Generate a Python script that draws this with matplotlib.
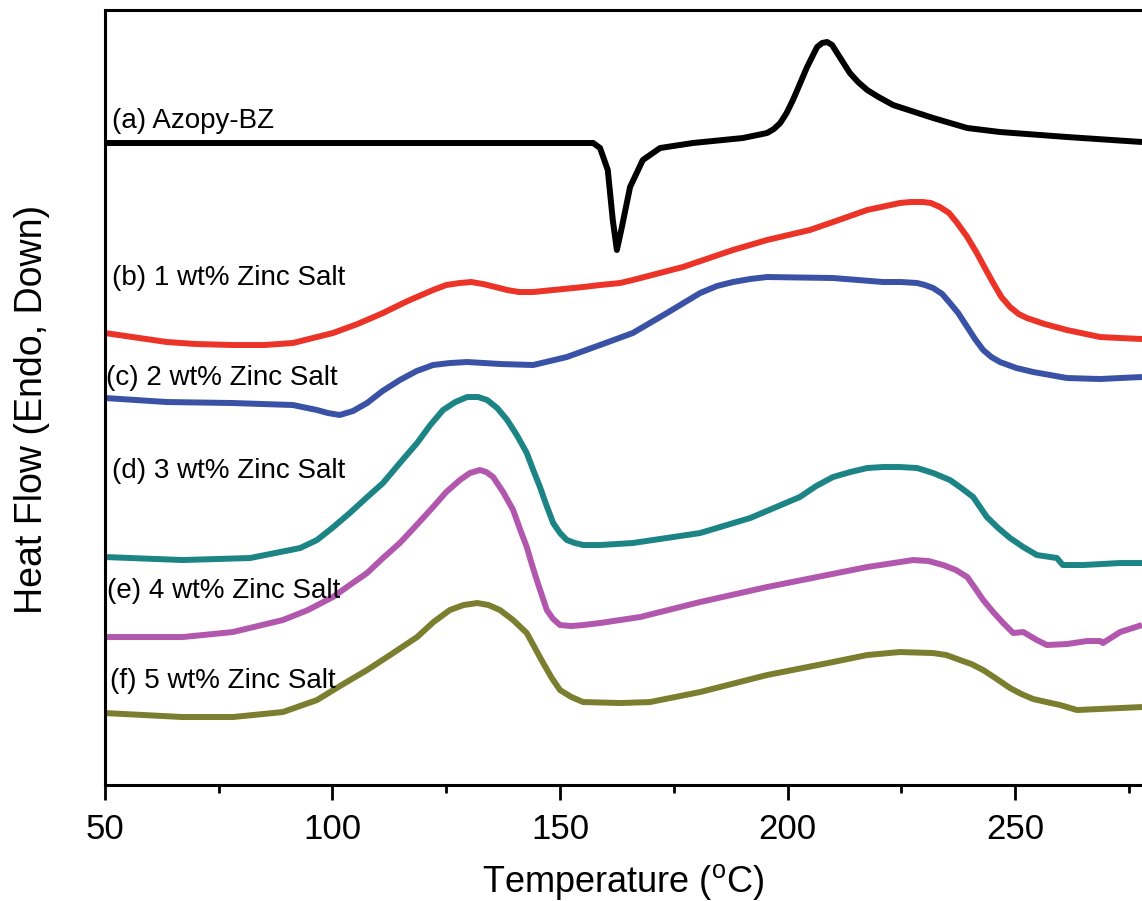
import matplotlib
matplotlib.use("Agg")
import matplotlib.pyplot as plt

plt.rcParams["font.family"] = ["Liberation Sans", "DejaVu Sans"]

# DSC traces, temperature in degC, heat flow in arbitrary (offset) units
temp_a = [50, 157.3, 158.8, 160.5, 161.6, 162.5, 163.6, 165.4, 168.2, 172.0,
          179.2, 190.2, 195.5, 197.0, 198.4, 199.8, 201.2, 202.8, 204.3, 206.5,
          207.6, 208.7, 209.8, 210.9, 213.7, 215.5, 217.5, 220.0, 223.2, 232.0,
          239.5, 246.7, 261.4, 277.9]
hf_a = [64.2, 64.2, 63.7, 61.5, 56.5, 53.5, 55.8, 59.8, 62.5, 63.7,
        64.2, 64.7, 65.2, 65.6, 66.2, 67.2, 68.5, 70.2, 71.8, 73.8,
        74.2, 74.3, 74.0, 73.2, 71.2, 70.3, 69.5, 68.8, 68.0, 66.7,
        65.7, 65.3, 64.8, 64.3]

temp_b = [50, 63.6, 70.0, 78.1, 85.0, 91.3, 100.1, 105.5, 111.1, 116.5,
          122.1, 125.0, 128.0, 130.5, 133.1, 135.8, 138.4, 141.0, 144.1, 155.1,
          158.8, 163.2, 166.0, 177.0, 188.0, 195.5, 204.9, 210.0, 217.5, 224.7,
          227.0, 229.8, 231.5, 233.5, 235.5, 237.3, 239.5, 241.6, 243.5, 245.2,
          247.0, 248.9, 250.8, 252.6, 256.5, 261.4, 268.7, 273.1, 277.9]
hf_b = [45.2, 44.3, 44.1, 44.0, 44.0, 44.2, 45.2, 46.1, 47.2, 48.4,
        49.5, 50.0, 50.2, 50.3, 50.1, 49.8, 49.5, 49.3, 49.3, 49.8,
        50.0, 50.2, 50.5, 51.8, 53.5, 54.5, 55.5, 56.3, 57.5, 58.2,
        58.3, 58.3, 58.2, 57.8, 57.2, 56.2, 54.8, 53.2, 51.6, 50.2,
        48.8, 47.8, 47.1, 46.7, 46.1, 45.5, 44.8, 44.7, 44.6]

temp_c = [50, 63.6, 78.1, 91.3, 96.6, 99.0, 101.6, 104.5, 107.6, 111.0,
          114.8, 118.5, 122.1, 125.8, 129.6, 137.0, 144.1, 151.5, 158.8, 166.0,
          173.5, 180.8, 184.5, 188.0, 191.8, 195.5, 210.0, 221.0, 225.0, 228.5,
          230.2, 232.0, 234.0, 235.7, 237.5, 239.5, 241.2, 243.0, 244.8, 246.7,
          250.3, 254.0, 257.7, 261.4, 268.7, 273.1, 277.9]
hf_c = [38.7, 38.3, 38.2, 38.0, 37.5, 37.2, 37.0, 37.4, 38.2, 39.4,
        40.5, 41.4, 42.0, 42.2, 42.3, 42.1, 42.0, 42.8, 44.0, 45.2,
        47.2, 49.2, 49.9, 50.3, 50.6, 50.8, 50.7, 50.3, 50.3, 50.2,
        50.0, 49.7, 49.1, 48.2, 47.2, 45.8, 44.6, 43.5, 42.8, 42.3,
        41.7, 41.3, 41.0, 40.7, 40.6, 40.7, 40.8]

temp_d = [50, 67.1, 81.9, 92.9, 96.6, 100.2, 103.8, 107.4, 111.1, 114.8,
          118.6, 121.5, 124.3, 127.0, 129.6, 132.0, 134.0, 136.2, 138.4, 140.5,
          142.7, 144.2, 145.6, 147.0, 148.5, 150.0, 151.5, 153.3, 155.1, 158.8,
          166.0, 180.8, 191.8, 202.7, 206.3, 210.0, 213.8, 217.5, 221.0, 224.7,
          228.5, 232.0, 235.7, 238.2, 240.8, 242.3, 243.8, 246.3, 248.9, 251.8,
          254.8, 259.2, 260.5, 264.9, 273.1, 277.9]
hf_d = [22.8, 22.5, 22.7, 23.7, 24.5, 25.8, 27.2, 28.7, 30.2, 32.2,
        34.2, 36.0, 37.5, 38.3, 38.8, 38.8, 38.5, 37.7, 36.5, 35.0,
        33.2, 31.4, 29.8, 28.0, 26.2, 25.2, 24.5, 24.2, 24.0, 24.0,
        24.2, 25.2, 26.7, 28.8, 29.9, 30.8, 31.3, 31.7, 31.8, 31.8,
        31.7, 31.2, 30.5, 29.7, 28.8, 27.8, 26.8, 25.7, 24.7, 23.8,
        23.0, 22.7, 22.0, 22.0, 22.2, 22.2]

temp_e = [50, 67.1, 78.1, 89.1, 94.6, 100.1, 103.8, 107.6, 111.1, 114.8,
          118.5, 122.1, 125.0, 128.0, 130.2, 132.4, 133.8, 135.3, 137.5, 139.7,
          141.2, 142.7, 143.8, 144.9, 146.0, 147.1, 148.5, 150.0, 152.5, 155.1,
          158.8, 167.6, 180.8, 195.5, 206.5, 217.5, 227.6, 231.0, 234.2, 237.0,
          239.5, 241.2, 243.0, 245.2, 247.4, 249.6, 251.8, 254.8, 257.0, 261.4,
          265.8, 268.7, 269.3, 273.1, 277.9]
hf_e = [14.8, 14.8, 15.3, 16.5, 17.5, 18.8, 20.0, 21.2, 22.7, 24.2,
        26.0, 27.8, 29.3, 30.5, 31.2, 31.5, 31.3, 30.8, 29.3, 27.5,
        25.6, 23.8, 22.1, 20.5, 19.0, 17.5, 16.6, 16.0, 15.9, 16.0,
        16.2, 16.8, 18.3, 19.8, 20.8, 21.8, 22.5, 22.4, 22.0, 21.5,
        20.8, 19.7, 18.5, 17.3, 16.2, 15.2, 15.3, 14.5, 14.0, 14.1,
        14.4, 14.4, 14.2, 15.3, 16.0]

temp_f = [50, 67.1, 78.1, 89.1, 96.6, 102.0, 107.6, 113.0, 118.6, 122.2,
          125.8, 128.8, 131.8, 134.3, 136.8, 139.7, 142.7, 144.5, 146.3, 148.2,
          150.0, 152.5, 155.1, 163.2, 169.8, 180.8, 195.5, 210.0, 217.5, 224.7,
          232.0, 234.9, 237.9, 240.4, 243.0, 246.0, 248.9, 251.4, 254.0, 256.9,
          259.9, 263.6, 273.1, 277.9]
hf_f = [7.2, 6.8, 6.8, 7.3, 8.5, 10.0, 11.5, 13.1, 14.8, 16.3,
        17.5, 18.0, 18.2, 18.0, 17.5, 16.5, 15.2, 13.7, 12.2, 10.7,
        9.5, 8.8, 8.3, 8.2, 8.3, 9.3, 11.0, 12.3, 13.0, 13.3,
        13.2, 13.0, 12.5, 12.1, 11.5, 10.6, 9.7, 9.1, 8.6, 8.3,
        8.0, 7.5, 7.7, 7.8]

labels = ["(a) Azopy-BZ", "(b) 1 wt% Zinc Salt", "(c) 2 wt% Zinc Salt",
          "(d) 3 wt% Zinc Salt", "(e) 4 wt% Zinc Salt", "(f) 5 wt% Zinc Salt"]
colors = ["#000000", "#EC3328", "#3A52A6", "#1C8485", "#B257AE", "#7A7E2E"]
# where each curve label sits (temperature, heat flow of the baseline)
label_x = [51.5, 51.5, 50.2, 51.5, 50.4, 51.1]
label_y = [65.7, 50.0, 40.0, 30.7, 18.7, 9.7]

temps = [temp_a, temp_b, temp_c, temp_d, temp_e, temp_f]
flows = [hf_a, hf_b, hf_c, hf_d, hf_e, hf_f]

fig = plt.figure(figsize=(11.42, 9.01), dpi=100)
ax = fig.add_axes([0.0919, 0.1287, 0.9081, 0.8602])

for t, h, c in zip(temps, flows, colors):
    ax.plot(t, h, color=c, lw=4.3, solid_joinstyle="round", solid_capstyle="butt")

for lab, x, y in zip(labels, label_x, label_y):
    ax.text(x, y, lab, fontsize=20, ha="left", va="baseline", color="black")

ax.set_xlim(50, 277.9)
ax.set_ylim(0, 77.5)
ax.set_xticks([50, 100, 150, 200, 250])
ax.set_xticks([75, 125, 175, 225, 275], minor=True)
ax.tick_params(axis="x", which="major", direction="out", length=11, width=2,
               labelsize=25, pad=9)
ax.tick_params(axis="x", which="minor", direction="out", length=6, width=2)
ax.set_yticks([])
ax.spines["right"].set_visible(False)
for side in ["left", "top", "bottom"]:
    ax.spines[side].set_linewidth(2.2)

ax.set_xlabel(r"Temperature ($\mathregular{^{o}}$C)", fontsize=26, labelpad=12)
ax.set_ylabel("Heat Flow (Endo, Down)", fontsize=27)
ax.yaxis.set_label_coords(-0.053, 0.484)

fig.savefig("out.png", dpi=100)
